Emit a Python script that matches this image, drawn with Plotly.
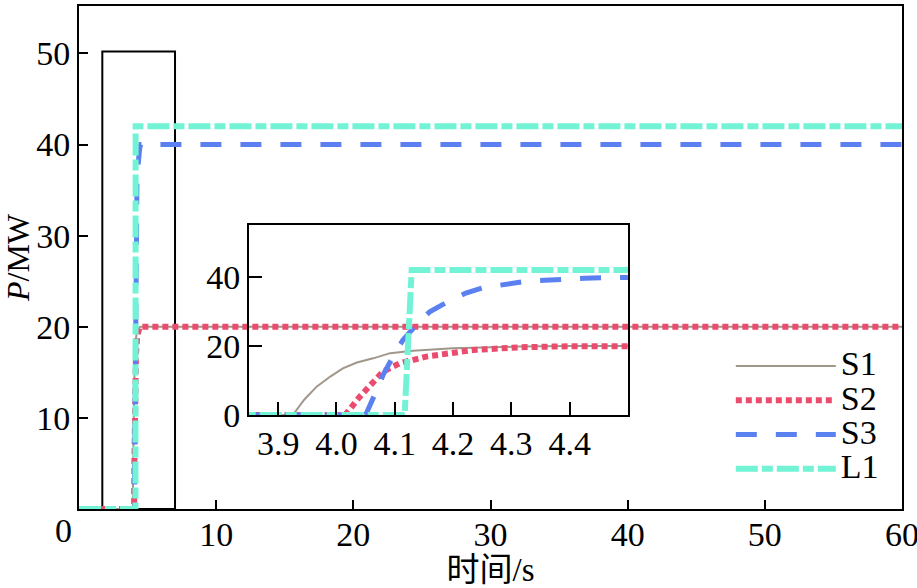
import plotly.graph_objects as go

# ---------------- data ----------------
series_names = ["S1", "S2", "S3", "L1"]

time_s1 = [0, 3.925, 3.945, 3.966, 3.99, 4.011, 4.035, 4.063, 4.092, 4.131, 4.2, 4.26, 4.314, 4.4, 4.5, 60]
p_s1 = [0, 0, 4.5, 8.2, 11.2, 13.5, 15.2, 16.4, 17.9, 18.6, 19.3, 19.6, 19.8, 19.95, 20, 20]

time_s2 = [0, 4.015, 4.04, 4.058, 4.08, 4.109, 4.154, 4.234, 4.314, 4.4, 4.5, 60]
p_s2 = [0, 0, 5.3, 8.7, 12.6, 15.0, 16.9, 18.8, 19.6, 19.9, 20, 20]

time_s3 = [0, 4.05, 4.068, 4.08, 4.097, 4.114, 4.137, 4.16, 4.191, 4.222, 4.253, 4.288,
           4.322, 4.357, 4.391, 4.425, 4.46, 4.5, 60]
p_s3 = [0, 0, 6.8, 11.6, 16.9, 21.7, 26.1, 29.9, 32.8, 35.3, 36.9, 37.9,
        38.6, 39.0, 39.4, 39.6, 39.8, 40, 40]

time_l1 = [0, 4.117, 4.129, 60]
p_l1 = [0, 0, 42, 42]

main_xticks = [10, 20, 30, 40, 50, 60]
main_yticks = [10, 20, 30, 40, 50]
inset_xticks = [3.9, 4.0, 4.1, 4.2, 4.3, 4.4]
inset_xticklabels = ["3.9", "4.0", "4.1", "4.2", "4.3", "4.4"]
inset_yticks = [0, 20, 40]

zoom_box_t = [1.7, 7.0]
zoom_box_p = [0, 50.2]

# ---------------- styles ----------------
FONT = "Liberation Serif, Noto Sans CJK SC"
TICK_SIZE = 34
styles = {
    "S1": dict(color="#A0978A", width=2, dash="solid"),
    "S2": dict(color="#EB4C6E", width=6, dash="6px,4px"),
    "S3": dict(color="#5B80F0", width=5, dash="21px,19px"),
    "L1": dict(color="#72F3D5", width=6, dash="22px,4px,11px,4px"),
}
data = {
    "S1": (time_s1, p_s1),
    "S2": (time_s2, p_s2),
    "S3": (time_s3, p_s3),
    "L1": (time_l1, p_l1),
}

fig = go.Figure()
for name in series_names:
    t, p = data[name]
    fig.add_trace(go.Scatter(x=t, y=p, mode="lines",
                             name='<span style="font-size:34px">%s</span>' % name,
                             line=styles[name], xaxis="x", yaxis="y",
                             legendgroup=name, showlegend=True))
for name in series_names:
    t, p = data[name]
    fig.add_trace(go.Scatter(x=t, y=p, mode="lines", name=name, line=styles[name],
                             xaxis="x2", yaxis="y2", legendgroup=name, showlegend=False))

axis_common = dict(showgrid=False, zeroline=False, showline=True, linecolor="black",
                   linewidth=2, mirror=True, ticks="inside", tickcolor="black",
                   tickwidth=2, automargin=False,
                   tickfont=dict(family=FONT, size=TICK_SIZE, color="black"))

fig.update_layout(
    template="none",
    width=917, height=588,
    margin=dict(l=79, r=15, t=6, b=79, autoexpand=False),
    paper_bgcolor="white",
    plot_bgcolor="rgba(0,0,0,0)",
    font=dict(family=FONT, size=32, color="black"),
    xaxis=dict(range=[0, 60], tickvals=main_xticks, ticklen=9,
               ticklabeloverflow="allow", ticklabelstandoff=-6,
               title=dict(text="时间/s", font=dict(family=FONT, size=33), standoff=10),
               **axis_common),
    yaxis=dict(range=[0, 55.2], tickvals=main_yticks, ticklen=9,
               title=dict(text="<i>P</i>/MW", font=dict(family=FONT, size=32), standoff=4),
               **axis_common),
    xaxis2=dict(domain=[0.2066, 0.667], anchor="y2", range=[3.85, 4.5],
                tickvals=inset_xticks, ticktext=inset_xticklabels, ticklen=13,
                ticklabelstandoff=-3,
                **axis_common),
    yaxis2=dict(domain=[0.1869, 0.5646], anchor="x2", range=[0, 55],
                tickvals=inset_yticks, ticklen=13, **axis_common),
    legend=dict(x=0.792, y=0.328, xanchor="left", yanchor="top",
                bgcolor="rgba(0,0,0,0)", borderwidth=0, itemwidth=100,
                font=dict(family=FONT, size=24), tracegroupgap=0),
    showlegend=True,
)

fig.add_shape(type="rect", xref="x", yref="y",
              x0=zoom_box_t[0], x1=zoom_box_t[1], y0=zoom_box_p[0], y1=zoom_box_p[1],
              line=dict(color="black", width=2), layer="below")

fig.add_annotation(text="0", xref="x", yref="y", x=0, y=0, xanchor="right", yanchor="top",
                   xshift=-5, yshift=-1, showarrow=False,
                   font=dict(family=FONT, size=TICK_SIZE, color="black"))

fig.write_html("out.html")
